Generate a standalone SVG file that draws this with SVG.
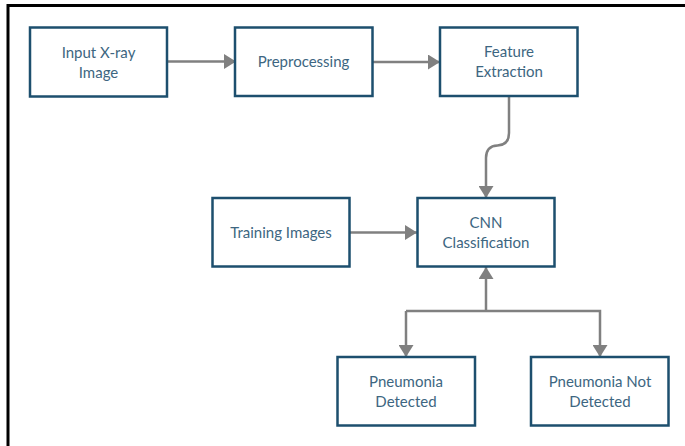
<svg xmlns="http://www.w3.org/2000/svg" width="685" height="446" viewBox="0 0 685 446">
<style>
.box{fill:#fff;stroke:#1d4f6e;stroke-width:2.5}
.lbl{font-family:Lato,"Open Sans","Liberation Sans",sans-serif;font-size:15px;fill:#3d6681;text-anchor:middle}
.cn{fill:none;stroke:#808080;stroke-width:2.5}
.frame{stroke:#000;stroke-width:3;fill:none}
</style>
<defs>
<marker id="ah" markerUnits="userSpaceOnUse" markerWidth="12" markerHeight="15" refX="12" refY="7.5" orient="auto">
<polygon points="0,0 12,7.5 0,15" fill="#808080"/>
</marker>
</defs>
<path class="frame" d="M8,446 V5.5 H685"/>
<g id="connectors">
<path class="cn" d="M167,61.5 H236" marker-end="url(#ah)"/>
<path class="cn" d="M372,62 H440" marker-end="url(#ah)"/>
<path class="cn" d="M509,97 V133 Q509,145 497.5,145.5 Q486,146 486,158 V198" marker-end="url(#ah)"/>
<path class="cn" d="M350,232.5 H417" marker-end="url(#ah)"/>
<path class="cn" d="M486,311 V267" marker-end="url(#ah)"/>
<path class="cn" d="M406,311 H600 V357" marker-end="url(#ah)"/>
<path class="cn" d="M406,311 V357" marker-end="url(#ah)"/>
</g>
<g id="input">
<rect class="box" x="30" y="27.5" width="137" height="69"/>
<text class="lbl" x="98.5" y="57.5">Input X-ray</text>
<text class="lbl" x="98.5" y="77.5">Image</text>
</g>
<g id="preprocessing">
<rect class="box" x="235" y="27.5" width="137.5" height="68.5"/>
<text class="lbl" x="303.5" y="67">Preprocessing</text>
</g>
<g id="feature">
<rect class="box" x="440" y="27.5" width="137.5" height="68.5"/>
<text class="lbl" x="509" y="57">Feature</text>
<text class="lbl" x="509" y="77">Extraction</text>
</g>
<g id="training">
<rect class="box" x="212.5" y="198" width="137" height="68.5"/>
<text class="lbl" x="281" y="237.5">Training Images</text>
</g>
<g id="cnn">
<rect class="box" x="417.5" y="198" width="137" height="68.5"/>
<text class="lbl" x="486" y="227.5">CNN</text>
<text class="lbl" x="486" y="247.5">Classification</text>
</g>
<g id="detected">
<rect class="box" x="337.5" y="357" width="137.5" height="68.5"/>
<text class="lbl" x="406" y="386.5">Pneumonia</text>
<text class="lbl" x="406" y="406.5">Detected</text>
</g>
<g id="notdetected">
<rect class="box" x="531" y="357" width="137.5" height="68.5"/>
<text class="lbl" x="600" y="386.5">Pneumonia Not</text>
<text class="lbl" x="600" y="406.5">Detected</text>
</g>
</svg>
